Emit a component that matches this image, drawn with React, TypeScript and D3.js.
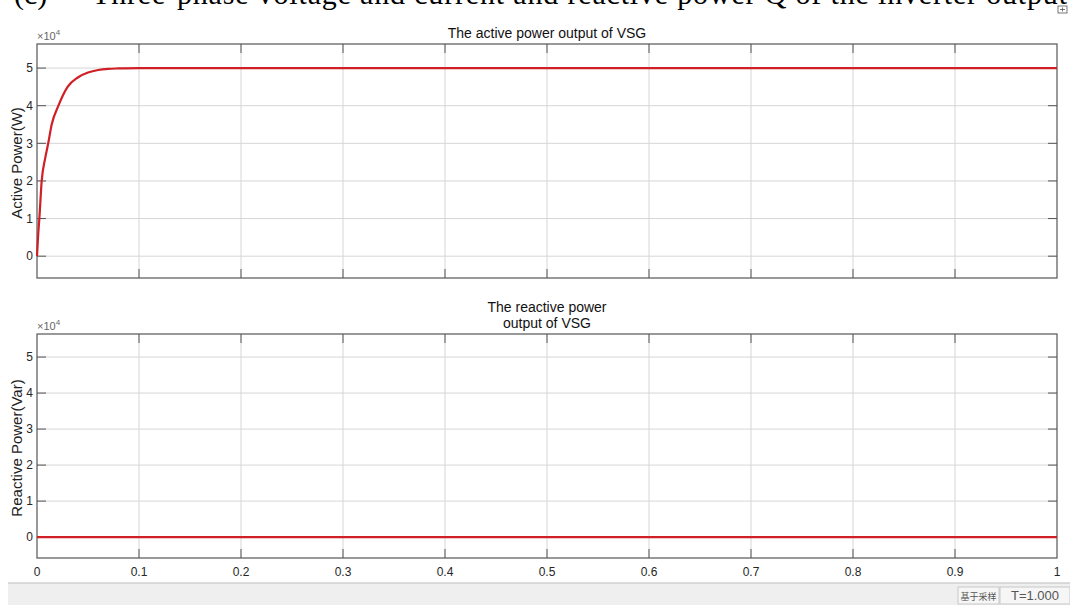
import React, { useEffect, useRef } from "react";
import * as d3 from "d3";

const activeTime = [0, 0.001, 0.0023, 0.0046, 0.008, 0.011, 0.0144, 0.021, 0.03, 0.04, 0.05, 0.06, 0.07, 0.08, 0.1, 1];
const activePower = [0, 5000, 10000, 20000, 26000, 30000, 35000, 40000, 45000, 47500, 48800, 49500, 49800, 49900, 50000, 50000];
const reactiveTime = [0, 1];
const reactivePower = [0, 0];

const xTicks = [0, 0.1, 0.2, 0.3, 0.4, 0.5, 0.6, 0.7, 0.8, 0.9, 1];
const yTicks = [0, 10000, 20000, 30000, 40000, 50000];
const yDomain = [-5800, 56400];

const W = 1070;
const H = 605;
const LEFT = 37;
const RIGHT = 1057;
const SANS = "Liberation Sans, Arial, sans-serif";

const App = () => {
  const svgRef = useRef(null);

  useEffect(() => {
    const svg = d3.select(svgRef.current);
    svg.selectAll("*").remove();

    const x = d3.scaleLinear().domain([0, 1]).range([LEFT, RIGHT]);

    // caption of the paper figure, cut off at the top of the screenshot
    const cap = svg.append("g")
      .attr("font-family", "Liberation Serif, serif")
      .attr("font-size", 30)
      .attr("fill", "#000");
    cap.append("text").attr("x", 14).attr("y", 4).text("(c)");
    cap.append("text").attr("x", 92).attr("y", 4)
      .attr("textLength", 975)
      .text("Three-phase voltage and current and reactive power Q of the inverter output");

    // small icon at top right
    svg.append("rect").attr("x", 1058).attr("y", 6).attr("width", 9).attr("height", 7)
      .attr("fill", "none").attr("stroke", "#555").attr("stroke-width", 0.8);
    svg.append("path").attr("d", "M1060,9.5h5M1062.5,7.5v4").attr("stroke", "#555").attr("stroke-width", 0.8);

    const panel = (top, bottom, times, vals, title, ylabel, showXLabels) => {
      const y = d3.scaleLinear().domain(yDomain).range([bottom, top]);
      const g = svg.append("g");

      // grid
      g.selectAll(".gx").data(xTicks.slice(1, -1)).join("line")
        .attr("x1", (d) => x(d)).attr("x2", (d) => x(d))
        .attr("y1", top).attr("y2", bottom)
        .attr("stroke", "#d6d6d6").attr("stroke-width", 1);
      g.selectAll(".gy").data(yTicks).join("line")
        .attr("x1", LEFT).attr("x2", RIGHT)
        .attr("y1", (d) => y(d)).attr("y2", (d) => y(d))
        .attr("stroke", "#d6d6d6").attr("stroke-width", 1);

      // tick marks inside, all four sides
      const tk = 9;
      xTicks.slice(1, -1).forEach((d) => {
        g.append("line").attr("x1", x(d)).attr("x2", x(d)).attr("y1", bottom).attr("y2", bottom - tk)
          .attr("stroke", "#555");
        g.append("line").attr("x1", x(d)).attr("x2", x(d)).attr("y1", top).attr("y2", top + tk)
          .attr("stroke", "#555");
      });
      yTicks.forEach((d) => {
        g.append("line").attr("x1", LEFT).attr("x2", LEFT + tk).attr("y1", y(d)).attr("y2", y(d))
          .attr("stroke", "#555");
        g.append("line").attr("x1", RIGHT).attr("x2", RIGHT - tk).attr("y1", y(d)).attr("y2", y(d))
          .attr("stroke", "#555");
      });

      // box
      g.append("rect").attr("x", LEFT).attr("y", top).attr("width", RIGHT - LEFT).attr("height", bottom - top)
        .attr("fill", "none").attr("stroke", "#555").attr("stroke-width", 1.2);

      // y tick labels
      g.selectAll(".yl").data(yTicks).join("text")
        .attr("x", LEFT - 4).attr("y", (d) => y(d)).attr("dy", "0.35em")
        .attr("text-anchor", "end")
        .attr("font-family", SANS).attr("font-size", 12)
        .attr("fill", "#262626")
        .text((d) => d3.format("d")(d / 10000));

      if (showXLabels) {
        g.selectAll(".xl").data(xTicks).join("text")
          .attr("x", (d) => x(d)).attr("y", bottom + 18)
          .attr("text-anchor", "middle")
          .attr("font-family", SANS).attr("font-size", 12)
          .attr("fill", "#262626")
          .text((d) => String(d));
      }

      // exponent
      const ex = g.append("text").attr("x", LEFT).attr("y", top - 4)
        .attr("font-family", SANS).attr("font-size", 11)
        .attr("fill", "#666");
      ex.append("tspan").text("\u00d710");
      ex.append("tspan").attr("dy", -5).attr("font-size", 8).text("4");

      // title
      const tl = g.append("text").attr("x", (LEFT + RIGHT) / 2)
        .attr("text-anchor", "middle")
        .attr("font-family", SANS).attr("font-size", 14)
        .attr("fill", "#111");
      title.forEach((line, i) => {
        tl.append("tspan").attr("x", (LEFT + RIGHT) / 2)
          .attr("y", top - 6 - (title.length - 1 - i) * 16).text(line);
      });

      // y label
      g.append("text")
        .attr("transform", `translate(22,${(top + bottom) / 2 + 2}) rotate(-90)`)
        .attr("text-anchor", "middle")
        .attr("font-family", SANS).attr("font-size", 15)
        .attr("fill", "#222")
        .text(ylabel);

      // data line
      const line = d3.line()
        .x((d, i) => x(times[i]))
        .y((d) => y(d))
        .curve(d3.curveMonotoneX);
      g.append("path").datum(vals)
        .attr("fill", "none").attr("stroke", "#d01f26").attr("stroke-width", 2.2)
        .attr("d", line);
    };

    panel(44, 278, activeTime, activePower, ["The active power output of VSG"], "Active Power(W)", false);
    panel(334, 558, reactiveTime, reactivePower, ["The reactive power", "output of VSG"], "Reactive Power(Var)", true);

    // status bar
    svg.append("rect").attr("x", 8).attr("y", 583).attr("width", W - 8).attr("height", H - 583).attr("fill", "#efefef");
    svg.append("line").attr("x1", 8).attr("x2", W).attr("y1", 583).attr("y2", 583)
      .attr("stroke", "#cfcfcf").attr("stroke-width", 1.5);
    const boxes = [
      { x0: 958, x1: 999, label: "基于采样", font: "Noto Sans CJK SC, sans-serif", size: 9 },
      { x0: 1000, x1: 1070, label: "T=1.000", font: SANS, size: 13 },
    ];
    boxes.forEach((b) => {
      svg.append("rect").attr("x", b.x0).attr("y", 587).attr("width", b.x1 - b.x0).attr("height", 17)
        .attr("fill", "#f6f6f6").attr("stroke", "#c8c8c8");
      svg.append("text").attr("x", (b.x0 + b.x1) / 2).attr("y", 600).attr("text-anchor", "middle")
        .attr("font-family", b.font).attr("font-size", b.size).attr("fill", "#555").text(b.label);
    });
  }, []);

  return (
    <div style={{ position: "fixed", left: 0, top: 0, width: W, height: H, background: "#fff" }}>
      <svg ref={svgRef} width={W} height={H} style={{ display: "block" }} />
    </div>
  );
};

export default App;
